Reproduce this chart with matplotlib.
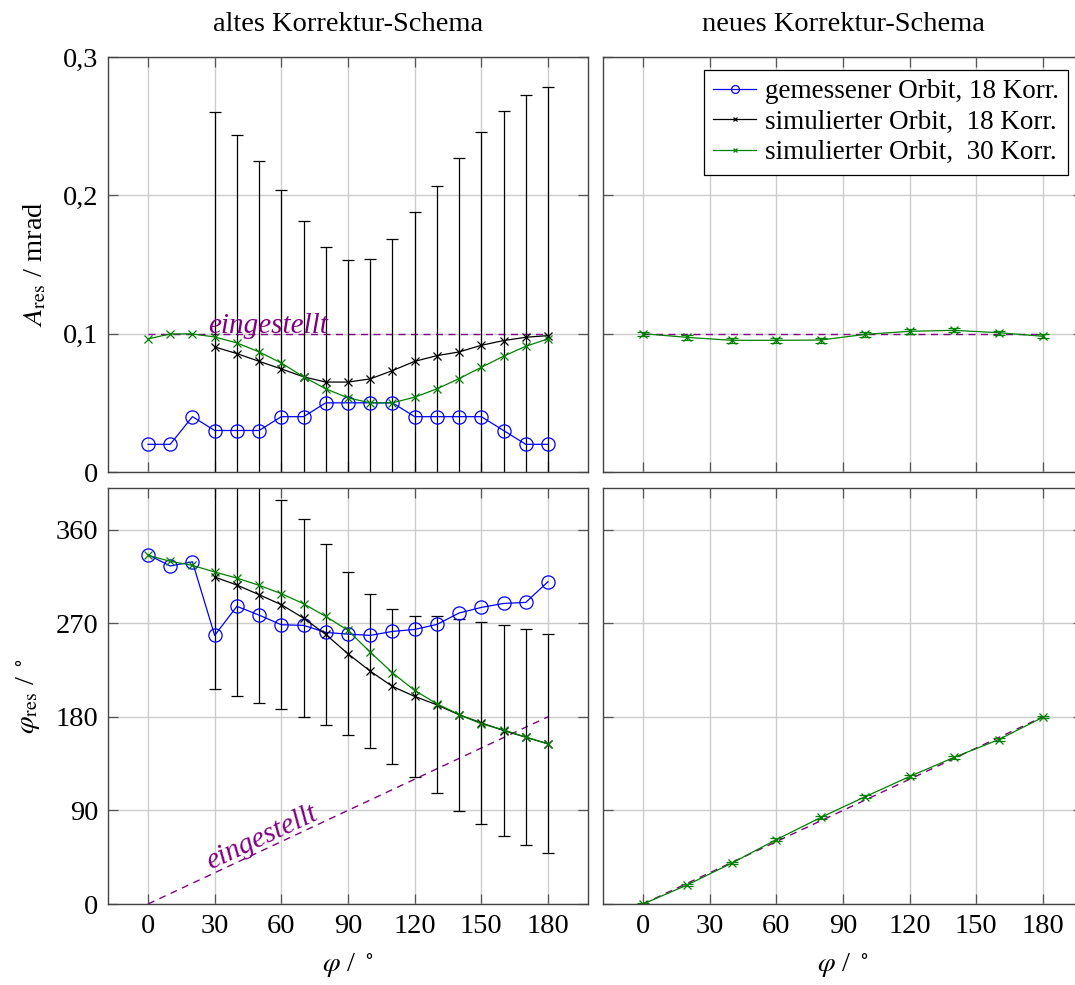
import numpy as np
import matplotlib
matplotlib.use("Agg")
import matplotlib.pyplot as plt

plt.rcParams['font.family'] = ['Liberation Serif', 'DejaVu Serif']
plt.rcParams['mathtext.fontset'] = 'stix'
plt.rcParams['font.size'] = 20.5

# --- data: old correction scheme (steps of 10 deg) ---
phi_set = [0, 10, 20, 30, 40, 50, 60, 70, 80, 90, 100, 110, 120, 130, 140, 150, 160, 170, 180]
phi_sim18 = phi_set[3:]

amp_meas = [0.02, 0.02, 0.04, 0.03, 0.03, 0.03, 0.04, 0.04, 0.05, 0.05, 0.05, 0.05,
            0.04, 0.04, 0.04, 0.04, 0.03, 0.02, 0.02]
amp_sim18 = [0.0904, 0.0856, 0.080, 0.0745, 0.0688, 0.065, 0.065, 0.0673, 0.0733,
             0.080, 0.0841, 0.0868, 0.0916, 0.095, 0.0974, 0.0986]
amp_sim18_err = [0.170, 0.158, 0.145, 0.129, 0.113, 0.098, 0.088, 0.087, 0.095,
                 0.108, 0.123, 0.140, 0.154, 0.166, 0.175, 0.180]
amp_sim30 = [0.0962, 0.0998, 0.0998, 0.0976, 0.0933, 0.0868, 0.0788, 0.0688, 0.0601,
             0.0536, 0.050, 0.050, 0.0541, 0.0601, 0.0675, 0.0757, 0.0837, 0.0909, 0.0962]

ph_meas = [335.9, 325.0, 329.0, 258.3, 286.2, 277.8, 268.5, 267.9, 261.1, 259.5, 258.3,
           262.1, 264.0, 268.8, 279.8, 285.2, 289.0, 290.0, 309.9]
ph_sim18 = [314.4, 306.7, 297.4, 287.8, 274.9, 259.2, 240.6, 223.9, 209.2, 199.6,
            191.5, 181.9, 174.2, 166.8, 160.4, 154.0]
ph_sim18_err = [107.5, 106.8, 103.9, 100.4, 95.3, 87.0, 78.3, 73.8, 74.6, 77.6,
                85.0, 92.5, 97.0, 101.0, 103.8, 105.3]
ph_sim30 = [335.3, 329.5, 325.6, 319.2, 313.4, 306.4, 298.4, 288.7, 276.5, 263.1, 242.2,
            222.3, 205.3, 192.5, 182.2, 173.2, 167.5, 160.4, 154.0]

# --- data: new correction scheme (steps of 20 deg) ---
phi_new = [0, 20, 40, 60, 80, 100, 120, 140, 160, 180]
amp_new = [0.1, 0.0973, 0.0952, 0.0952, 0.0954, 0.0995, 0.1017, 0.1024, 0.1007, 0.0981]
amp_new_err = [0.0015, 0.0018, 0.0018, 0.0018, 0.0018, 0.0018, 0.0018, 0.0015, 0.0015, 0.0015]
ph_new = [0.0, 18.4, 39.4, 61.9, 83.2, 103.2, 122.6, 141.0, 158.0, 179.6]
ph_new_err = [1.2, 1.2, 1.2, 1.2, 1.2, 1.2, 1.2, 1.2, 1.2, 1.2]

amp_target = 0.1
x_ticks = [0, 30, 60, 90, 120, 150, 180]
amp_ticks = [0, 0.1, 0.2, 0.3]
amp_ticklabels = ['0', '0,1', '0,2', '0,3']
ph_ticks = [0, 90, 180, 270, 360]

blue = '#0000ff'
green = '#008000'
purple = '#800080'

W, H = 1075, 985
fig = plt.figure(figsize=(W / 100, H / 100), dpi=100)


def add_ax(x0, y_top, w, h):
    return fig.add_axes([x0 / W, (H - y_top - h) / H, w / W, h / H])


ax_tl = add_ax(108, 57, 480, 415)
ax_tr = add_ax(603, 57, 480, 415)
ax_bl = add_ax(108, 488, 480, 416)
ax_br = add_ax(603, 488, 480, 416)

for ax in (ax_tl, ax_tr, ax_bl, ax_br):
    ax.set_xlim(-18, 198)
    ax.set_xticks(x_ticks)
    ax.grid(True, color='#cccccc', linewidth=1.0)
    ax.set_axisbelow(True)
    for s in ax.spines.values():
        s.set_color('#444444')
        s.set_linewidth(1.0)
    ax.tick_params(direction='in', top=True, right=True, length=7, width=0.9,
                   color='#555555', pad=7)

for ax in (ax_tl, ax_tr):
    ax.set_ylim(0, 0.3)
    ax.set_yticks(amp_ticks)
    ax.set_yticklabels(amp_ticklabels)
    ax.tick_params(labelbottom=False)
for ax in (ax_bl, ax_br):
    ax.set_ylim(0, 400)
    ax.set_yticks(ph_ticks)
    ax.set_xlabel(r'$\varphi$ / $^\circ$', labelpad=9)
for ax in (ax_tr, ax_br):
    ax.tick_params(labelleft=False)

line_kw = dict(linewidth=0.9)
err_kw = dict(ecolor='black', elinewidth=0.9, capsize=4.5, capthick=0.9)

# amplitude, old scheme
ax_tl.plot([0, 180], [amp_target, amp_target], '--', color=purple, linewidth=1.0, dashes=(5, 4))
ax_tl.text(27, 0.1005, 'eingestellt', color=purple, style='italic', fontsize=21,
           va='baseline', ha='left')
ax_tl.errorbar(phi_sim18, amp_sim18, yerr=amp_sim18_err, fmt='none', **err_kw)
ax_tl.plot(phi_set, amp_meas, '-o', color=blue, markerfacecolor='none', markersize=9.5,
           markeredgewidth=0.9, label='gemessener Orbit, 18 Korr.', **line_kw)
ax_tl.plot(phi_sim18, amp_sim18, '-x', color='black', markersize=6, markeredgewidth=0.9,
           label='simulierter Orbit,  18 Korr.', **line_kw)
ax_tl.plot(phi_set, amp_sim30, '-x', color=green, markersize=6, markeredgewidth=0.9,
           label='simulierter Orbit,  30 Korr.', **line_kw)
ax_tl.set_ylabel(r'$A_{\mathrm{res}}$ / mrad', labelpad=10)
ax_tl.set_title('altes Korrektur-Schema', fontsize=20.5, pad=19)

# phase, old scheme
ax_bl.plot([0, 180], [0, 180], '--', color=purple, linewidth=1.0, dashes=(5, 4))
ax_bl.text(28, 33, 'eingestellt', color=purple, style='italic', fontsize=21,
           rotation=45, transform_rotates_text=True, rotation_mode='anchor',
           va='baseline', ha='left')
ax_bl.errorbar(phi_sim18, ph_sim18, yerr=ph_sim18_err, fmt='none', **err_kw)
ax_bl.plot(phi_set, ph_meas, '-o', color=blue, markerfacecolor='none', markersize=9.5,
           markeredgewidth=0.9, **line_kw)
ax_bl.plot(phi_sim18, ph_sim18, '-x', color='black', markersize=6, markeredgewidth=0.9, **line_kw)
ax_bl.plot(phi_set, ph_sim30, '-x', color=green, markersize=6, markeredgewidth=0.9, **line_kw)
ax_bl.set_ylabel(r'$\varphi_{\mathrm{res}}$ / $^\circ$', labelpad=10)

# amplitude, new scheme
ax_tr.plot([0, 180], [amp_target, amp_target], '--', color=purple, linewidth=1.0, dashes=(5, 4))
ax_tr.errorbar(phi_new, amp_new, yerr=amp_new_err, fmt='-x', color=green, markersize=6,
               markeredgewidth=0.9, elinewidth=0.9, capsize=4, capthick=0.9, **line_kw)
ax_tr.set_title('neues Korrektur-Schema', fontsize=20.5, pad=19)

# phase, new scheme
ax_br.plot([0, 180], [0, 180], '--', color=purple, linewidth=1.0, dashes=(5, 4))
ax_br.errorbar(phi_new, ph_new, yerr=ph_new_err, fmt='-x', color=green, markersize=6,
               markeredgewidth=0.9, elinewidth=0.9, capsize=4, capthick=0.9, **line_kw)

# legend sits in the upper-right panel
handles, labels = ax_tl.get_legend_handles_labels()
leg = ax_tr.legend(handles, labels, loc='upper right', bbox_to_anchor=(1068 / W, (H - 70) / H),
                   bbox_transform=fig.transFigure, borderaxespad=0, frameon=True,
                   fancybox=False, edgecolor='black', framealpha=1, markerscale=0.6,
                   handlelength=1.6, handletextpad=0.3, labelspacing=0.2,
                   borderpad=0.35, fontsize=19.5)
leg.get_frame().set_linewidth(0.9)

fig.savefig('out.png', dpi=100)
